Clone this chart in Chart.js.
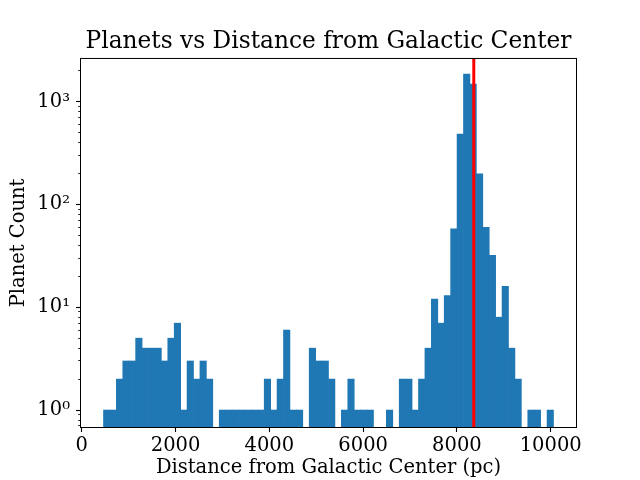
<!DOCTYPE html>
<html>
<head>
<meta charset="utf-8">
<script src="https://cdn.jsdelivr.net/npm/chart.js@4"></script>
<style>html,body{margin:0;background:#fff}</style>
</head>
<body>
<canvas id="myChart" width="640" height="480"></canvas>
<script>
// histogram bins in pc (70 equal bins)
var binStart = 463;
var binWidth = 137.1;
var planetCounts = [
    1, 1, 2, 3, 3, 5, 4, 4, 4, 3,
    5, 7, 1, 3, 2, 3, 2, null, 1, 1,
    1, 1, 1, 1, 1, 2, 1, 2, 6, 1,
    1, null, 4, 3, 3, 2, null, 1, 2, 1,
    1, 1, null, null, 1, null, 2, 2, 1, 2,
    4, 12, 7, 13, 58, 484, 1850, 1480, 198, 60,
    32, 8, 16, 4, 2, null, 1, 1, null, 1
];
var sunDistance = 8360;
var xTicks = [0, 2000, 4000, 6000, 8000, 10000];
var yMajorTicks = [1, 10, 100, 1000];
var yMinorTicks = [0.7, 0.8, 0.9, 2, 3, 4, 5, 6, 7, 8, 9, 20, 30, 40, 50, 60, 70, 80, 90,
    200, 300, 400, 500, 600, 700, 800, 900, 2000];
var supers = ['\u2070', '\u00b9', '\u00b2', '\u00b3'];

var points = planetCounts.map(function (c, i) {
    return { x: binStart + binWidth * (i + 0.5), y: c };
});

var serif = 'DejaVu Serif';

function isMajor(v) {
    return yMajorTicks.indexOf(v) >= 0;
}

// red line for the Sun + full frame like matplotlib
var frameAndSun = {
    id: 'frameAndSun',
    afterDatasetsDraw: function (chart) {
        var ctx = chart.ctx, a = chart.chartArea;
        var x = chart.scales.x.getPixelForValue(sunDistance);
        ctx.save();
        ctx.strokeStyle = '#ff0000';
        ctx.lineWidth = 3;
        ctx.beginPath();
        ctx.moveTo(x, a.top);
        ctx.lineTo(x, a.bottom);
        ctx.stroke();
        ctx.strokeStyle = '#000';
        ctx.lineWidth = 1;
        ctx.strokeRect(a.left - 0.5, a.top - 0.5, a.right - a.left + 1, a.bottom - a.top + 1);
        ctx.restore();
    }
};

var ctx = document.getElementById('myChart').getContext('2d');
var chart = new Chart(ctx, {
    type: 'bar',
    data: {
        datasets: [{
            data: points,
            backgroundColor: '#1f77b4',
            borderWidth: 0,
            barPercentage: 1,
            categoryPercentage: 1
        }]
    },
    options: {
        responsive: false,
        animation: false,
        devicePixelRatio: 1,
        layout: { padding: { left: 0, right: 64, top: 0, bottom: 0 } },
        plugins: {
            legend: { display: false },
            tooltip: { enabled: false },
            title: {
                display: true,
                fullSize: false,
                text: 'Planets vs Distance from Galactic Center',
                color: '#000',
                font: { family: serif, size: 23.3, weight: 'normal' },
                padding: { top: 28, bottom: 3 }
            }
        },
        scales: {
            x: {
                type: 'linear',
                offset: false,
                min: -17,
                max: 10540,
                afterBuildTicks: function (s) {
                    s.ticks = xTicks.map(function (v) { return { value: v }; });
                },
                afterFit: function (s) { s.height = 53; },
                grid: { drawOnChartArea: false, offset: false, tickLength: 5, tickWidth: 1.1, color: '#000' },
                border: { display: false },
                ticks: {
                    color: '#000',
                    autoSkip: false,
                    maxRotation: 0,
                    padding: 2,
                    font: { family: serif, size: 19.5 },
                    callback: function (v) { return String(v); }
                },
                title: {
                    display: true,
                    text: 'Distance from Galactic Center (pc)',
                    color: '#000',
                    font: { family: serif, size: 19.5 },
                    padding: { top: 0, bottom: 0 }
                }
            },
            y: {
                type: 'logarithmic',
                min: 0.684,
                max: 2600,
                afterBuildTicks: function (s) {
                    s.ticks = yMajorTicks.concat(yMinorTicks).map(function (v) { return { value: v }; });
                },
                afterFit: function (s) { s.width = 81; },
                grid: {
                    drawOnChartArea: false,
                    tickLength: 5,
                    color: '#000',
                    tickWidth: function (c) {
                        return isMajor(c.tick.value) ? 1.1 : 0.85;
                    },
                    // minor ticks: only the inner ~2.8px of the tick mark
                    tickBorderDash: function (c) {
                        return isMajor(c.tick.value) ? [] : [0, 2.2, 2.8, 20];
                    }
                },
                border: { display: false },
                ticks: {
                    color: '#000',
                    autoSkip: false,
                    padding: 6,
                    font: { family: serif, size: 19.5 },
                    callback: function (v) {
                        var k = yMajorTicks.indexOf(v);
                        return k >= 0 ? '10' + supers[k] : '';
                    }
                },
                title: {
                    display: true,
                    text: 'Planet Count',
                    color: '#000',
                    font: { family: serif, size: 19.5 },
                    padding: { top: 7, bottom: 0 }
                }
            }
        }
    },
    plugins: [frameAndSun]
});
</script>
</body>
</html>
